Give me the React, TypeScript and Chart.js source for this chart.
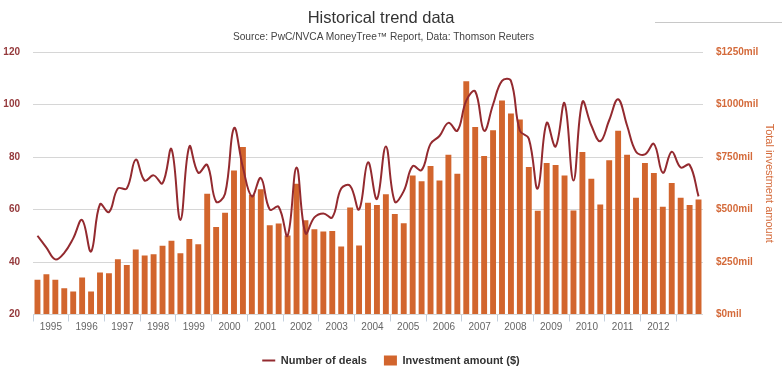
import React, { useEffect, useRef } from 'react';
import { Chart, registerables } from 'chart.js';

Chart.register(...registerables);

// Quarterly categories, 1995 Q1 .. 2013 Q3
const categories = [
  '1995 Q1', '1995 Q2', '1995 Q3', '1995 Q4',
  '1996 Q1', '1996 Q2', '1996 Q3', '1996 Q4',
  '1997 Q1', '1997 Q2', '1997 Q3', '1997 Q4',
  '1998 Q1', '1998 Q2', '1998 Q3', '1998 Q4',
  '1999 Q1', '1999 Q2', '1999 Q3', '1999 Q4',
  '2000 Q1', '2000 Q2', '2000 Q3', '2000 Q4',
  '2001 Q1', '2001 Q2', '2001 Q3', '2001 Q4',
  '2002 Q1', '2002 Q2', '2002 Q3', '2002 Q4',
  '2003 Q1', '2003 Q2', '2003 Q3', '2003 Q4',
  '2004 Q1', '2004 Q2', '2004 Q3', '2004 Q4',
  '2005 Q1', '2005 Q2', '2005 Q3', '2005 Q4',
  '2006 Q1', '2006 Q2', '2006 Q3', '2006 Q4',
  '2007 Q1', '2007 Q2', '2007 Q3', '2007 Q4',
  '2008 Q1', '2008 Q2', '2008 Q3', '2008 Q4',
  '2009 Q1', '2009 Q2', '2009 Q3', '2009 Q4',
  '2010 Q1', '2010 Q2', '2010 Q3', '2010 Q4',
  '2011 Q1', '2011 Q2', '2011 Q3', '2011 Q4',
  '2012 Q1', '2012 Q2', '2012 Q3', '2012 Q4',
  '2013 Q1', '2013 Q2', '2013 Q3',
];

// Year tick labels shown under the x axis
const yearLabels = [
  '1995', '1996', '1997', '1998', '1999', '2000', '2001', '2002', '2003',
  '2004', '2005', '2006', '2007', '2008', '2009', '2010', '2011', '2012',
];

// Number of deals (left axis)
const deals = [
  50, 45.5, 41, 43.5, 49, 56, 44, 62,
  59, 68, 68, 79, 71, 73, 70, 83,
  56, 84, 74, 77, 63, 66, 91, 76,
  65, 72, 60, 61, 50, 76, 51, 57,
  58.5, 57, 68, 69, 60, 78, 64, 84,
  63, 67, 76.5, 75, 85, 88, 93, 90,
  101.5, 105, 90, 100, 109, 109, 90, 87,
  68, 93, 84, 100.5, 71, 101, 92, 86,
  94, 102, 92, 82, 81, 85, 74, 82,
  76, 77, 65,
];

// Investment amount in $ millions (right axis)
const investment = [
  165, 192, 165, 125, 109, 176, 109, 200,
  196, 263, 236, 309, 281, 287, 327, 351,
  292, 359, 335, 575, 417, 484, 686, 798,
  569, 597, 425, 433, 376, 623, 449, 406,
  395, 398, 324, 510, 328, 532, 521, 573,
  478, 435, 662, 635, 707, 638, 761, 670,
  1111, 893, 755, 877, 1019, 957, 928, 702,
  494, 721, 712, 662, 495, 774, 647, 524,
  734, 875, 761, 556, 721, 674, 513, 626,
  556, 521, 548,
];

const LINE_COLOR = '#932a2f';
const BAR_COLOR = '#d2652d';
const LEFT_LABEL_COLOR = '#953a3c';
const RIGHT_LABEL_COLOR = '#d46a3a';
const FONT = "'Liberation Sans', Arial, Helvetica, sans-serif";

export default function App() {
  const ref = useRef<HTMLCanvasElement>(null);

  useEffect(() => {
    if (!ref.current) return;
    const chart = new Chart(ref.current, {
      type: 'bar',
      data: {
        labels: categories,
        datasets: [
          {
            type: 'line',
            label: 'Number of deals',
            data: deals,
            yAxisID: 'y',
            borderColor: LINE_COLOR,
            backgroundColor: LINE_COLOR,
            borderWidth: 2,
            pointRadius: 0,
            pointHoverRadius: 0,
            tension: 0.4,
            fill: false,
          },
          {
            type: 'bar',
            label: 'Investment amount ($)',
            data: investment,
            yAxisID: 'y1',
            backgroundColor: BAR_COLOR,
            borderWidth: 0,
            categoryPercentage: 1,
            barPercentage: 0.66,
          },
        ],
      },
      options: {
        responsive: false,
        animation: false,
        devicePixelRatio: 1,
        layout: { padding: { top: 52, bottom: 3, left: 0, right: 0 } },
        font: { family: FONT },
        plugins: {
          title: { display: false },
          tooltip: { enabled: false },
          legend: {
            position: 'bottom',
            labels: {
              usePointStyle: true,
              pointStyleWidth: 13,
              boxHeight: 10,
              padding: 17,
              color: '#333333',
              font: { family: FONT, size: 11, weight: 'bold' },
              generateLabels: () => [
                {
                  text: 'Number of deals',
                  fillStyle: LINE_COLOR,
                  strokeStyle: LINE_COLOR,
                  lineWidth: 2,
                  pointStyle: 'line',
                  hidden: false,
                  datasetIndex: 0,
                  fontColor: '#333333',
                },
                {
                  text: 'Investment amount ($)',
                  fillStyle: BAR_COLOR,
                  strokeStyle: BAR_COLOR,
                  lineWidth: 0,
                  pointStyle: 'rect',
                  hidden: false,
                  datasetIndex: 1,
                  fontColor: '#333333',
                },
              ],
            },
          },
        },
        scales: {
          x: {
            type: 'category',
            offset: true,
            border: { display: false },
            grid: {
              offset: true,
              drawOnChartArea: false,
              drawTicks: true,
              tickLength: 7,
              tickWidth: 1,
              tickColor: (ctx: any) =>
                typeof ctx.index === 'number' && ctx.index % 4 === 0 ? '#c4d0de' : 'rgba(0,0,0,0)',
            },
            ticks: {
              autoSkip: false,
              maxRotation: 0,
              minRotation: 0,
              padding: 0,
              labelOffset: 4.47,
              color: '#666666',
              font: { family: FONT, size: 10 },
              callback: (_v: any, index: number) =>
                index % 4 === 1 ? yearLabels[Math.floor(index / 4)] ?? '' : '',
            },
            afterFit: (scale: any) => {
              scale.height = 23.5;
            },
          },
          y: {
            position: 'left',
            min: 20,
            max: 120,
            border: { display: false },
            grid: { color: '#d6d6d6', lineWidth: 1, drawTicks: false },
            ticks: {
              stepSize: 20,
              padding: 13,
              color: LEFT_LABEL_COLOR,
              font: { family: FONT, size: 10, weight: 'bold' },
            },
            afterFit: (scale: any) => {
              scale.width = 33;
            },
          },
          y1: {
            position: 'right',
            min: 0,
            max: 1250,
            border: { display: false },
            grid: { drawOnChartArea: false, drawTicks: false },
            ticks: {
              stepSize: 250,
              padding: 13,
              color: RIGHT_LABEL_COLOR,
              font: { family: FONT, size: 10, weight: 'bold' },
              callback: (v: any) => '$' + v + 'mil',
            },
            title: {
              display: true,
              text: 'Total investment amount',
              color: RIGHT_LABEL_COLOR,
              font: { family: FONT, size: 11 },
              padding: { top: 6, bottom: 0 },
            },
            afterFit: (scale: any) => {
              scale.width = 79;
            },
          },
        },
      },
    });
    return () => chart.destroy();
  }, []);

  return (
    <div
      style={{
        position: 'absolute',
        left: 0,
        top: 0,
        width: 782,
        height: 379,
        background: '#ffffff',
        fontFamily: FONT,
        overflow: 'hidden',
      }}
    >
      <canvas
        ref={ref}
        width={782}
        height={379}
        style={{ position: 'absolute', left: 0, top: 0, width: 782, height: 379 }}
      />
      <div
        style={{
          position: 'absolute',
          left: 0,
          top: 7,
          width: 762,
          textAlign: 'center',
          fontSize: 16.5,
          lineHeight: '20px',
          color: '#333333',
        }}
      >
        Historical trend data
      </div>
      <div
        style={{
          position: 'absolute',
          left: 0,
          top: 30,
          width: 767,
          textAlign: 'center',
          fontSize: 10.2,
          lineHeight: '14px',
          color: '#444444',
        }}
      >
        Source: PwC/NVCA MoneyTree™ Report, Data: Thomson Reuters
      </div>
      <div
        style={{
          position: 'absolute',
          left: 655,
          top: 22,
          width: 127,
          height: 0,
          borderTop: '1px solid #c8c8c8',
        }}
      />
    </div>
  );
}
